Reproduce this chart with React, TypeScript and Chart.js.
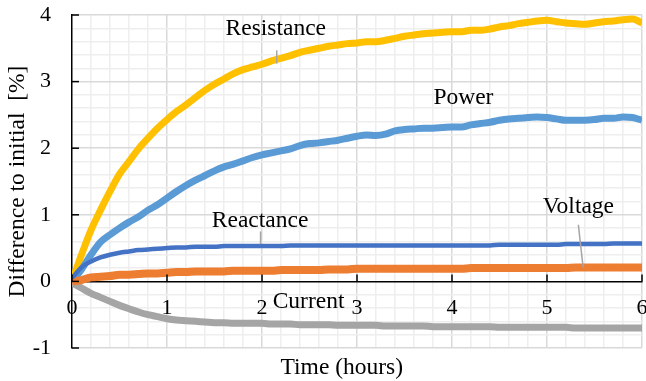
import React, { useEffect, useRef } from "react";
import { Chart, registerables } from "chart.js";

Chart.register(...registerables);

const hours = [
  0.0, 0.1, 0.2, 0.3, 0.4, 0.5, 0.6, 0.7, 0.8, 0.9,
  1.0, 1.1, 1.2, 1.3, 1.4, 1.5, 1.6, 1.7, 1.8, 1.9,
  2.0, 2.1, 2.2, 2.3, 2.4, 2.5, 2.6, 2.7, 2.8, 2.9,
  3.0, 3.1, 3.2, 3.3, 3.4, 3.5, 3.6, 3.7, 3.8, 3.9,
  4.0, 4.1, 4.2, 4.3, 4.4, 4.5, 4.6, 4.7, 4.8, 4.9,
  5.0, 5.1, 5.2, 5.3, 5.4, 5.5, 5.6, 5.7, 5.8, 5.9,
  6.0,
];

const resistance = [
  0.0, 0.4, 0.77, 1.07, 1.35, 1.61, 1.8, 1.99, 2.15, 2.3,
  2.43, 2.55, 2.65, 2.76, 2.87, 2.96, 3.04, 3.12, 3.18, 3.22,
  3.26, 3.31, 3.35, 3.39, 3.44, 3.47, 3.5, 3.53, 3.55, 3.57,
  3.58, 3.6, 3.6, 3.62, 3.65, 3.68, 3.7, 3.72, 3.73, 3.74,
  3.75, 3.75, 3.77, 3.77, 3.79, 3.82, 3.84, 3.87, 3.89, 3.91,
  3.92, 3.9, 3.88, 3.87, 3.86, 3.88, 3.9, 3.91, 3.93, 3.94,
  3.88,
];

const power = [
  0.0, 0.18, 0.4, 0.59, 0.7, 0.8, 0.89, 0.97, 1.07, 1.15,
  1.25, 1.35, 1.44, 1.52, 1.59, 1.66, 1.72, 1.76, 1.81, 1.86,
  1.9, 1.93, 1.96, 1.99, 2.04, 2.07, 2.08, 2.1, 2.12, 2.15,
  2.18, 2.2, 2.19, 2.21, 2.26, 2.28, 2.29, 2.3, 2.3, 2.31,
  2.32, 2.32, 2.35, 2.37, 2.39, 2.42, 2.44, 2.45, 2.46, 2.47,
  2.46, 2.44, 2.42, 2.42, 2.42, 2.43, 2.45, 2.45, 2.47, 2.46,
  2.42,
];

const reactance = [
  0.05, 0.21, 0.3, 0.36, 0.4, 0.43, 0.45, 0.47, 0.48, 0.49,
  0.5, 0.51, 0.51, 0.52, 0.52, 0.52, 0.53, 0.53, 0.53, 0.53,
  0.53, 0.53, 0.53, 0.54, 0.54, 0.54, 0.54, 0.54, 0.54, 0.54,
  0.54, 0.54, 0.54, 0.54, 0.54, 0.54, 0.54, 0.54, 0.54, 0.54,
  0.54, 0.54, 0.54, 0.54, 0.54, 0.55, 0.55, 0.55, 0.55, 0.55,
  0.55, 0.55, 0.56, 0.56, 0.56, 0.56, 0.56, 0.57, 0.57, 0.57,
  0.57,
];

const voltage = [
  0.0, 0.02, 0.06, 0.07, 0.08, 0.1, 0.1, 0.11, 0.12, 0.12,
  0.13, 0.14, 0.14, 0.15, 0.15, 0.15, 0.15, 0.16, 0.16, 0.16,
  0.16, 0.16, 0.17, 0.17, 0.17, 0.17, 0.17, 0.18, 0.18, 0.18,
  0.19, 0.19, 0.19, 0.19, 0.19, 0.19, 0.19, 0.19, 0.19, 0.19,
  0.19, 0.19, 0.2, 0.2, 0.2, 0.2, 0.2, 0.2, 0.2, 0.2,
  0.2, 0.2, 0.2, 0.21, 0.21, 0.21, 0.21, 0.21, 0.21, 0.21,
  0.21,
];

const current = [
  -0.02, -0.1, -0.18, -0.24, -0.3, -0.36, -0.41, -0.46, -0.5, -0.53,
  -0.56, -0.58, -0.59, -0.6, -0.61, -0.62, -0.62, -0.63, -0.63, -0.63,
  -0.63, -0.64, -0.64, -0.64, -0.65, -0.65, -0.65, -0.65, -0.66, -0.66,
  -0.66, -0.66, -0.66, -0.67, -0.67, -0.67, -0.67, -0.67, -0.68, -0.68,
  -0.68, -0.68, -0.68, -0.68, -0.68, -0.69, -0.69, -0.69, -0.69, -0.69,
  -0.69, -0.69, -0.69, -0.7, -0.7, -0.7, -0.7, -0.7, -0.7, -0.7,
  -0.7,
];

const xTickLabels = ["0", "1", "2", "3", "4", "5", "6"];
const yTickLabels = ["-1", "0", "1", "2", "3", "4"];
const xTitle = "Time (hours)";
const yTitle = "Difference to initial  [%]";

// series label anchors (data units): centre x, baseline y; leader lines x1,y1,x2,y2
const labelNames = ["Resistance", "Power", "Reactance", "Voltage", "Current"];
const labelX = [2.145, 4.12, 1.98, 5.33, 2.49];
const labelY = [3.7, 2.66, 0.81, 1.02, -0.4];
const leaders: (number[] | null)[] = [
  [2.155, 3.47, 2.155, 3.27],
  null,
  [1.985, 0.75, 1.985, 0.56],
  [5.33, 0.85, 5.38, 0.21],
  null,
];

const SERIF = '"Liberation Serif", "Times New Roman", serif';

const isInt = (v: number) => Math.abs(v - Math.round(v)) < 1e-6;

const toPts = (ys: number[]) => hours.map((h, i) => ({ x: h, y: ys[i] }));

const overlayPlugin = {
  id: "overlay",
  afterDraw(chart: any) {
    const { ctx, chartArea, scales } = chart;
    const xs = scales.x;
    const ys = scales.y;
    ctx.save();
    ctx.strokeStyle = "#000";
    ctx.lineWidth = 1.5;
    const y0 = ys.getPixelForValue(0);
    xTickLabels.map(Number).forEach((v) => {
      const px = xs.getPixelForValue(v);
      ctx.beginPath();
      ctx.moveTo(px, y0);
      ctx.lineTo(px, y0 - 7);
      ctx.stroke();
    });
    yTickLabels.map(Number).forEach((v) => {
      const py = ys.getPixelForValue(v);
      ctx.beginPath();
      ctx.moveTo(chartArea.left, py);
      ctx.lineTo(chartArea.left + 7, py);
      ctx.stroke();
    });
    ctx.strokeStyle = "#a5a5a5";
    ctx.lineWidth = 1.5;
    leaders.forEach((l) => {
      if (!l) return;
      ctx.beginPath();
      ctx.moveTo(xs.getPixelForValue(l[0]), ys.getPixelForValue(l[1]));
      ctx.lineTo(xs.getPixelForValue(l[2]), ys.getPixelForValue(l[3]));
      ctx.stroke();
    });
    ctx.fillStyle = "#000";
    ctx.font = `23.5px ${SERIF}`;
    ctx.textAlign = "center";
    ctx.textBaseline = "alphabetic";
    labelNames.forEach((t, i) => {
      ctx.fillText(t, xs.getPixelForValue(labelX[i]), ys.getPixelForValue(labelY[i]));
    });
    ctx.fillText(xTitle, xs.getPixelForValue(2.84), chartArea.bottom + 26);
    ctx.restore();
  },
};

export default function App() {
  const ref = useRef<HTMLCanvasElement>(null);
  useEffect(() => {
    document.body.style.margin = "0";
    const gridColor = (c: any) => {
      const v = c.tick?.value;
      if (v === undefined) return "rgba(0,0,0,0)";
      if (Math.abs(v) < 1e-6) return "rgba(0,0,0,0)";
      return isInt(v) ? "#d9d9d9" : "#eeeeee";
    };
    const chart = new Chart(ref.current!, {
      type: "line",
      data: {
        datasets: [
          { label: "Reactance", data: toPts(reactance), borderColor: "#4472c4", borderWidth: 4.5 },
          { label: "Voltage", data: toPts(voltage), borderColor: "#ed7d31", borderWidth: 8 },
          { label: "Current", data: toPts(current), borderColor: "#a5a5a5", borderWidth: 7 },
          { label: "Power", data: toPts(power), borderColor: "#5b9bd5", borderWidth: 7 },
          { label: "Resistance", data: toPts(resistance), borderColor: "#ffc000", borderWidth: 7 },
        ].map((d) => ({ ...d, pointRadius: 0, cubicInterpolationMode: "monotone" as const, fill: false })),
      },
      options: {
        animation: false,
        responsive: false,
        devicePixelRatio: 1,
        layout: { padding: { top: 15, right: 4, bottom: 33, left: 0 } },
        plugins: { legend: { display: false }, tooltip: { enabled: false } },
        scales: {
          x: {
            type: "linear",
            position: { y: 0 } as any,
            min: 0,
            max: 6,
            afterFit: (s: any) => {
              s.height = 0;
              s.paddingLeft = 0;
              s.paddingRight = 0;
            },
            ticks: {
              stepSize: 0.2,
              autoSkip: false,
              maxRotation: 0,
              padding: 14,
              color: "#000",
              font: { family: SERIF, size: 22 },
              callback: (v: any) => (isInt(Number(v)) ? String(Math.round(Number(v))) : ""),
            },
            grid: { color: gridColor, lineWidth: 1.5, drawTicks: false },
            border: { color: "#000", width: 1.5 },
          },
          y: {
            type: "linear",
            position: "left",
            min: -1,
            max: 4,
            afterFit: (s: any) => {
              s.width = 72;
              s.paddingTop = 0;
              s.paddingBottom = 0;
            },
            ticks: {
              stepSize: 0.2,
              autoSkip: false,
              padding: 21,
              color: "#000",
              font: { family: SERIF, size: 22 },
              callback: (v: any) => (isInt(Number(v)) ? String(Math.round(Number(v))) : ""),
            },
            grid: { color: gridColor, lineWidth: 1.5, drawTicks: false },
            border: { color: "#000", width: 1.5 },
            title: {
              display: true,
              text: yTitle,
              color: "#000",
              font: { family: SERIF, size: 23.5 },
              padding: { top: 4, bottom: 0 },
            },
          },
        },
      },
      plugins: [overlayPlugin],
    });
    return () => chart.destroy();
  }, []);
  return (
    <div style={{ width: 646, height: 381 }}>
      <canvas ref={ref} width={646} height={381} style={{ display: "block" }} />
    </div>
  );
}
